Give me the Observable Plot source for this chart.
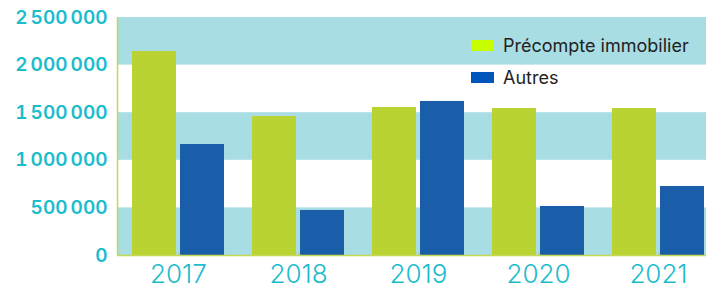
<!DOCTYPE html>
<html>
<head>
<meta charset="utf-8">
<script src="https://cdn.jsdelivr.net/npm/d3@7"></script>
<script src="https://cdn.jsdelivr.net/npm/@observablehq/plot@0.6"></script>
<style>
html, body { margin: 0; padding: 0; background: #fff; overflow: hidden; }
#wrap { position: relative; width: 706px; height: 290px; }
.legend { position: absolute; left: 471px; font-family: Inter, "Noto Sans", sans-serif; font-size: 18px; color: #222; display: flex; align-items: center; }
.legend span.sw { display: inline-block; width: 23px; height: 11px; margin-right: 9px; }
</style>
</head>
<body>
<div id="wrap"></div>
<script>
const years = ["2017", "2018", "2019", "2020", "2021"];
const precompte = [2143000, 1460000, 1555000, 1544000, 1544000];
const autres = [1166000, 473000, 1618000, 515000, 725000];
const seriesNames = ["Précompte immobilier", "Autres"];
const barColors = ["#b9d432", "#1a5eaa"];
const legendColors = ["#c8ff00", "#0055bb"];
const yTicks = [0, 500000, 1000000, 1500000, 2000000, 2500000];
const bands = [[0, 500000], [1000000, 1500000], [2000000, 2500000]];

const teal = "#1bbccc";
const fmt = d3.formatLocale({decimal: ",", thousands: "\u2009", grouping: [3], currency: ["", "€"]}).format(",d");

const green = years.map((y, i) => ({year: y, value: precompte[i]}));
const blue = years.map((y, i) => ({year: y, value: autres[i]}));
const bandData = bands.map(([a, b]) => ({a, b}));

const chart = Plot.plot({
  width: 706,
  height: 290,
  marginLeft: 117,
  marginRight: 0,
  marginTop: 17,
  marginBottom: 35,
  style: {fontFamily: "Inter, 'Noto Sans', sans-serif", background: "white", overflow: "visible"},
  x: {domain: years, range: [118, 718], paddingInner: 0.2333, paddingOuter: 0.1167, round: false, label: null},
  y: {domain: [0, 2500000], label: null},
  marks: [
    Plot.rectY(bandData, {y1: "a", y2: "b", fill: "#a8dde3"}),
    Plot.barY(green, {x: "year", y: "value", fill: barColors[0], insetRight: 48}),
    Plot.barY(blue, {x: "year", y: "value", fill: barColors[1], insetLeft: 48}),
    Plot.ruleX(years, {x: d => d, y1: 0, y2: 30000, stroke: "#b8c8a0"}),
    Plot.ruleY([0], {stroke: "#c3da52", strokeWidth: 1.5}),
    Plot.axisY({ticks: yTicks, tickSize: 0, tickPadding: 10, tickFormat: fmt, fill: teal, fontSize: 19, fontWeight: 600}),
    Plot.axisX({tickSize: 0, tickPadding: 9, fill: teal, fontSize: 26, fontWeight: 300})
  ]
});
const wrap = document.getElementById("wrap");
wrap.appendChild(chart);
// left axis line
const svg = d3.select(chart);
svg.append("line").attr("x1", 117.5).attr("x2", 117.5).attr("y1", 17).attr("y2", 255).attr("stroke", "#c3da52").attr("stroke-width", 1.5);

seriesNames.forEach((name, i) => {
  const div = document.createElement("div");
  div.className = "legend";
  div.style.top = (35 + i * 32) + "px";
  div.innerHTML = `<span class="sw" style="background:${legendColors[i]}"></span>${name}`;
  wrap.appendChild(div);
});
</script>
</body>
</html>
